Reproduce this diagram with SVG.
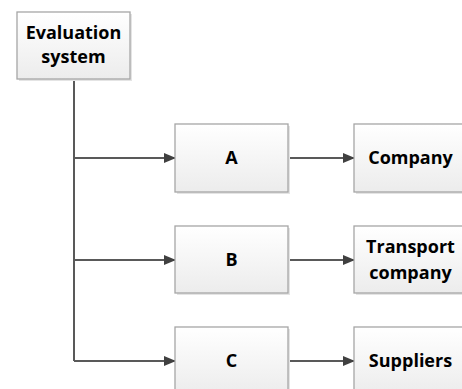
<svg xmlns="http://www.w3.org/2000/svg" width="462" height="389" viewBox="0 0 462 389">
<style>
.box{fill:url(#g);stroke:#a6a6a6;stroke-width:1.3}
.sh{fill:#e4e4e4}
.t{font-family:"Open Sans","Noto Sans",sans-serif;font-weight:bold;font-size:18px;fill:#000;text-anchor:middle}
.ln{stroke:#595959;stroke-width:2;fill:none}
</style>
<defs>
<linearGradient id="g" x1="0" y1="0" x2="0" y2="1">
<stop offset="0" stop-color="#ffffff"/>
<stop offset="1" stop-color="#ececec"/>
</linearGradient>
<marker id="ar" markerWidth="12" markerHeight="10" refX="11" refY="5" orient="auto" markerUnits="userSpaceOnUse">
<path d="M0,0 L12,5 L0,10 Z" fill="#404040"/>
</marker>
</defs>
<g id="connectors">
<path class="ln" d="M74,79 V361"/>
<path class="ln" d="M74,158 H175" marker-end="url(#ar)"/>
<path class="ln" d="M74,260 H175" marker-end="url(#ar)"/>
<path class="ln" d="M74,361 H175" marker-end="url(#ar)"/>
<path class="ln" d="M288,158 H354" marker-end="url(#ar)"/>
<path class="ln" d="M288,260 H354" marker-end="url(#ar)"/>
<path class="ln" d="M288,361 H354" marker-end="url(#ar)"/>
</g>
<g id="eval">
<rect class="sh" x="19" y="14" width="113" height="67"/>
<rect class="box" x="17" y="12" width="113" height="67"/>
<text class="t" x="73.5" y="39">Evaluation</text>
<text class="t" x="73.5" y="63">system</text>
</g>
<g id="A">
<rect class="sh" x="177" y="126" width="113" height="68"/>
<rect class="box" x="175" y="124" width="113" height="68"/>
<text class="t" x="231.5" y="164">A</text>
</g>
<g id="B">
<rect class="sh" x="177" y="228" width="113" height="67"/>
<rect class="box" x="175" y="226" width="113" height="67"/>
<text class="t" x="231.5" y="266">B</text>
</g>
<g id="C">
<rect class="sh" x="177" y="329" width="113" height="68"/>
<rect class="box" x="175" y="327" width="113" height="68"/>
<text class="t" x="231.5" y="367">C</text>
</g>
<g id="company">
<rect class="sh" x="356" y="126" width="113" height="68"/>
<rect class="box" x="354" y="124" width="113" height="68"/>
<text class="t" x="410.5" y="164">Company</text>
</g>
<g id="transport">
<rect class="sh" x="356" y="228" width="113" height="67"/>
<rect class="box" x="354" y="226" width="113" height="67"/>
<text class="t" x="410.5" y="253">Transport</text>
<text class="t" x="410.5" y="279">company</text>
</g>
<g id="suppliers">
<rect class="sh" x="356" y="329" width="113" height="68"/>
<rect class="box" x="354" y="327" width="113" height="68"/>
<text class="t" x="410.5" y="367">Suppliers</text>
</g>
</svg>
